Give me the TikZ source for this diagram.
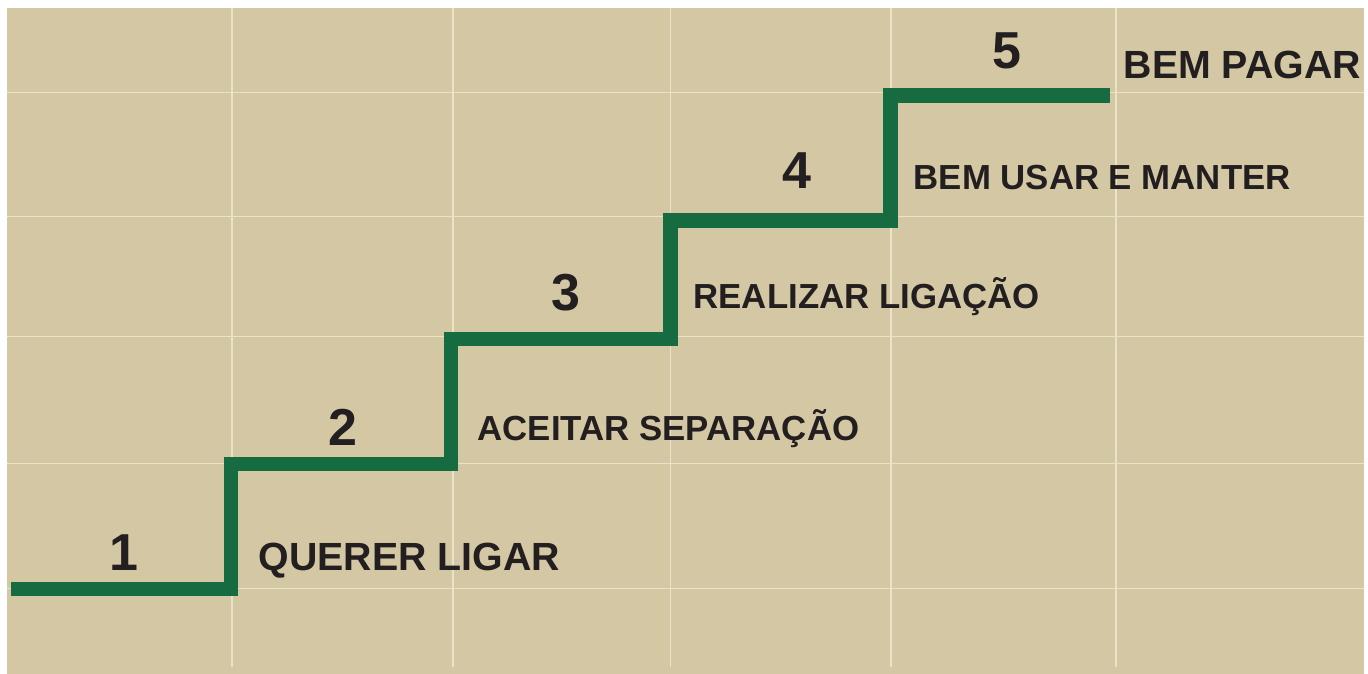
\documentclass[tikz,border=0pt]{standalone}
\usepackage{fontspec}
\setmainfont{Liberation Sans}
\definecolor{sand}{RGB}{211,200,163}
\definecolor{gridline}{RGB}{234,227,200}
\definecolor{stairgreen}{RGB}{22,107,64}
\definecolor{ink}{RGB}{35,31,32}
\begin{document}
\begin{tikzpicture}[x=1pt,y=-1pt,
    stepnum/.style={font=\fontsize{52}{52}\selectfont\bfseries, text=ink, inner sep=0pt, anchor=base},
    steplabel/.style={font=\fontsize{34.8}{36}\selectfont\bfseries, text=ink, inner sep=0pt, anchor=base west},
    biglabel/.style={steplabel, font=\fontsize{39.3}{40}\selectfont\bfseries}]
    \useasboundingbox (0,0) rectangle (1368,674);

    % Background and grid
    \fill[sand] (7,8) rectangle (1364,674);
    \foreach \gx in {232,453,670.5,891,1116}
        \draw[gridline, line width=1.3pt] (\gx,8) -- (\gx,667);
    \foreach \gy in {92.7,216.7,336.7,463.3,588.5}
        \draw[gridline, line width=1.3pt] (7,\gy) -- (1364,\gy);

    % Stair
    \draw[stairgreen, line width=14.5pt] (11,589) -| (231,464) -| (451,339)
        -| (670.5,220.5) -| (890.5,95.5) -- (1110,95.5);

    % Step numbers
    \node[stepnum] (n1) at (124,570) {1};
    \node[stepnum] (n2) at (343,445) {2};
    \node[stepnum] (n3) at (566,310) {3};
    \node[stepnum] (n4) at (797,189) {4};
    \node[stepnum] (n5) at (1006.5,69) {5};

    % Step labels
    \node[biglabel] (querer) at (258.3,570) {QUERER LIGAR};
    \node[steplabel] (aceitar) at (477.5,440.7) {ACEITAR SEPARAÇÃO};
    \node[steplabel] (realizar) at (693.4,308.3) {REALIZAR LIGAÇÃO};
    \node[steplabel] (usar) at (913.5,189.3) {BEM USAR E MANTER};
    \node[biglabel] (pagar) at (1123.5,79) {BEM PAGAR};
\end{tikzpicture}
\end{document}
